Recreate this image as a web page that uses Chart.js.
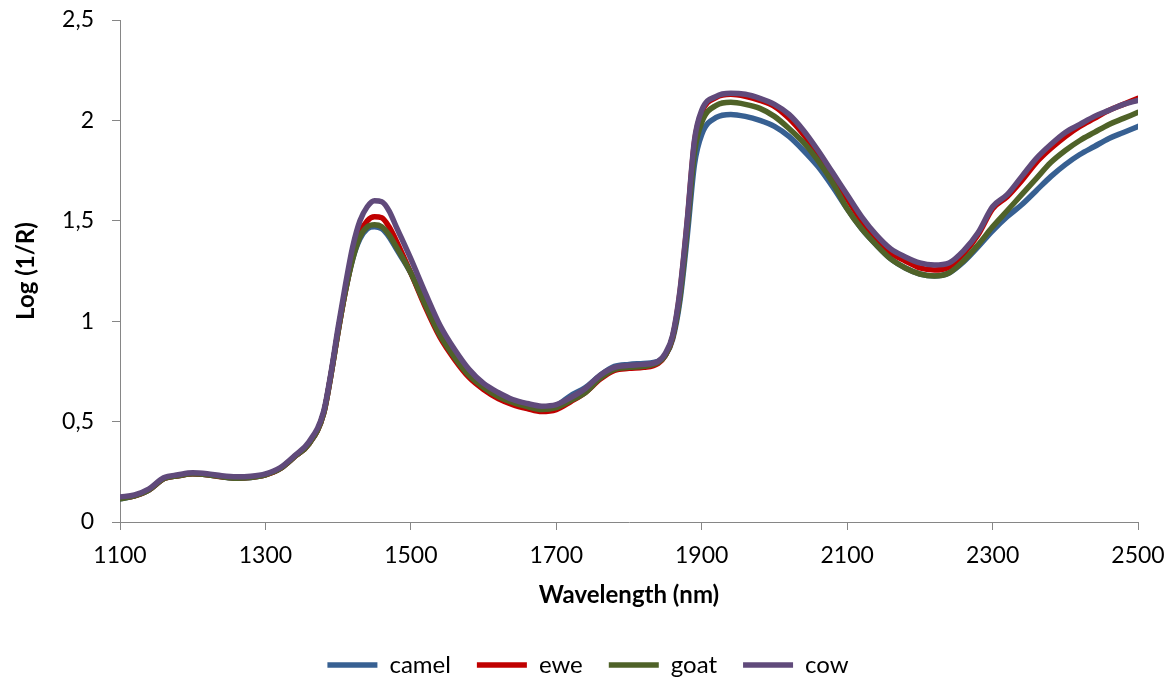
<!DOCTYPE html>
<html>
<head>
<meta charset="utf-8">
<script src="https://cdn.jsdelivr.net/npm/chart.js@4.4.1/dist/chart.umd.min.js"></script>
<style>
  html, body { margin: 0; padding: 0; background: #fff; }
</style>
</head>
<body>
<canvas id="myChart" width="1176" height="677"></canvas>
<script>
const wavelengths = [1100,1120,1140,1160,1180,1200,1220,1240,1260,1280,1300,1320,1340,1360,1380,1390,1400,1410,1420,1430,1440,1450,1460,1470,1480,1500,1520,1540,1560,1580,1600,1620,1640,1660,1680,1700,1720,1740,1760,1780,1800,1820,1840,1850,1860,1870,1880,1890,1900,1920,1940,1960,1980,2000,2020,2040,2060,2080,2100,2120,2140,2160,2180,2200,2220,2240,2260,2280,2300,2320,2340,2360,2380,2400,2420,2440,2460,2480,2500]

const camel = [0.115,0.13,0.16,0.215,0.23,0.24,0.235,0.225,0.218,0.222,0.235,0.265,0.325,0.39,0.54,0.73,0.95,1.15,1.31,1.41,1.46,1.47,1.46,1.42,1.36,1.24,1.08,0.93,0.82,0.73,0.67,0.625,0.60,0.58,0.57,0.58,0.63,0.67,0.73,0.775,0.785,0.79,0.80,0.83,0.91,1.10,1.42,1.78,1.93,2.015,2.03,2.02,2.00,1.97,1.92,1.85,1.77,1.67,1.56,1.46,1.38,1.31,1.265,1.235,1.225,1.24,1.295,1.37,1.45,1.52,1.58,1.65,1.72,1.78,1.83,1.87,1.91,1.94,1.97]
const ewe = [0.12,0.13,0.16,0.215,0.23,0.24,0.235,0.225,0.22,0.223,0.235,0.265,0.325,0.39,0.54,0.73,0.95,1.15,1.32,1.44,1.50,1.52,1.515,1.47,1.40,1.24,1.07,0.92,0.81,0.72,0.66,0.615,0.585,0.565,0.55,0.56,0.60,0.645,0.71,0.755,0.765,0.77,0.79,0.83,0.92,1.14,1.49,1.89,2.04,2.115,2.13,2.12,2.10,2.07,2.01,1.93,1.835,1.72,1.61,1.50,1.41,1.34,1.30,1.265,1.255,1.27,1.335,1.43,1.56,1.62,1.70,1.79,1.86,1.92,1.97,2.01,2.05,2.08,2.11]
const goat = [0.115,0.13,0.16,0.215,0.23,0.24,0.235,0.225,0.218,0.222,0.235,0.265,0.325,0.39,0.54,0.73,0.95,1.15,1.31,1.42,1.47,1.48,1.47,1.43,1.37,1.24,1.08,0.93,0.82,0.73,0.67,0.625,0.595,0.575,0.56,0.57,0.605,0.645,0.715,0.76,0.77,0.775,0.795,0.83,0.92,1.12,1.46,1.84,1.99,2.075,2.09,2.08,2.06,2.02,1.96,1.89,1.80,1.69,1.56,1.46,1.38,1.31,1.265,1.235,1.225,1.24,1.30,1.38,1.47,1.55,1.63,1.71,1.79,1.85,1.90,1.94,1.98,2.01,2.04]
const cow = [0.125,0.135,0.165,0.22,0.235,0.245,0.24,0.23,0.225,0.228,0.24,0.27,0.33,0.40,0.55,0.74,0.97,1.18,1.37,1.50,1.57,1.60,1.595,1.55,1.47,1.31,1.14,0.98,0.86,0.76,0.69,0.645,0.61,0.59,0.577,0.585,0.62,0.665,0.73,0.77,0.78,0.785,0.80,0.84,0.93,1.15,1.50,1.90,2.05,2.12,2.135,2.13,2.11,2.08,2.03,1.95,1.85,1.74,1.63,1.52,1.43,1.36,1.32,1.29,1.28,1.29,1.35,1.44,1.57,1.63,1.72,1.81,1.88,1.94,1.98,2.02,2.05,2.08,2.10]

const xTicks = [1100, 1300, 1500, 1700, 1900, 2100, 2300, 2500]
const yTicks = [0, 0.5, 1, 1.5, 2, 2.5]

const seriesNames = ['camel', 'ewe', 'goat', 'cow']
const seriesColors = ['#376092', '#c00000', '#4f6228', '#604a7b']

const toPoints = (vals) => wavelengths.map((w, i) => ({ x: w, y: vals[i] }))

const data = {
  datasets: [camel, ewe, goat, cow].map((vals, i) => ({
    label: seriesNames[i],
    data: toPoints(vals),
    borderColor: seriesColors[i],
    backgroundColor: seriesColors[i],
    borderWidth: 5.5,
    borderCapStyle: 'round',
    pointRadius: 0,
    cubicInterpolationMode: 'monotone',
    order: 4 - i
  }))
}

const tickFont = { family: 'Lato', size: 23 }
const titleFont = { family: 'Lato', size: 24, weight: 'bold' }

// labels overflow is handled by hand, so drop the automatic padding
const noPad = (scale) => {
  scale.paddingTop = 0
  scale.paddingBottom = 0
  scale.paddingLeft = 0
  scale.paddingRight = 0
}

const config = {
  type: 'line',
  data: data,
  options: {
    responsive: false,
    animation: false,
    layout: { padding: { left: 0, right: 0, top: 20, bottom: -10 } },
    plugins: {
      tooltip: { enabled: false },
      legend: {
        position: 'bottom',
        labels: {
          usePointStyle: true,
          pointStyleWidth: 50,
          pointStyle: 'line',
          padding: 26,
          color: '#000',
          font: { family: 'Lato', size: 24 },
          sort: (a, b) => a.datasetIndex - b.datasetIndex
        }
      }
    },
    scales: {
      x: {
        type: 'linear',
        min: 1100,
        max: 2500,
        afterBuildTicks: (scale) => { scale.ticks = xTicks.map(v => ({ value: v })) },
        afterFit: (scale) => { scale.height = 105; noPad(scale) },
        ticks: { color: '#000', font: tickFont, padding: 12, maxRotation: 0, callback: (v) => String(v) },
        grid: { drawOnChartArea: false, tickLength: 8, color: '#868686' },
        border: { color: '#868686' },
        title: { display: true, text: 'Wavelength (nm)', color: '#000', font: titleFont, padding: { top: 0, bottom: 17 } }
      },
      y: {
        min: 0,
        max: 2.5,
        afterBuildTicks: (scale) => { scale.ticks = yTicks.map(v => ({ value: v })) },
        afterFit: (scale) => { scale.width = 120; noPad(scale) },
        ticks: {
          color: '#000',
          font: tickFont,
          padding: 18,
          callback: (v) => String(v).replace('.', ',')
        },
        grid: { drawOnChartArea: false, tickLength: 8, color: '#868686' },
        border: { color: '#868686' },
        title: { display: true, text: 'Log (1/R)', color: '#000', font: titleFont, padding: { top: 12, bottom: 0 } }
      },
      yRight: {
        position: 'right',
        afterFit: (scale) => { scale.width = 38; noPad(scale) },
        ticks: { display: false },
        grid: { display: false },
        border: { display: false }
      }
    }
  }
}

const myChart = new Chart(document.getElementById('myChart'), config)
</script>
</body>
</html>
